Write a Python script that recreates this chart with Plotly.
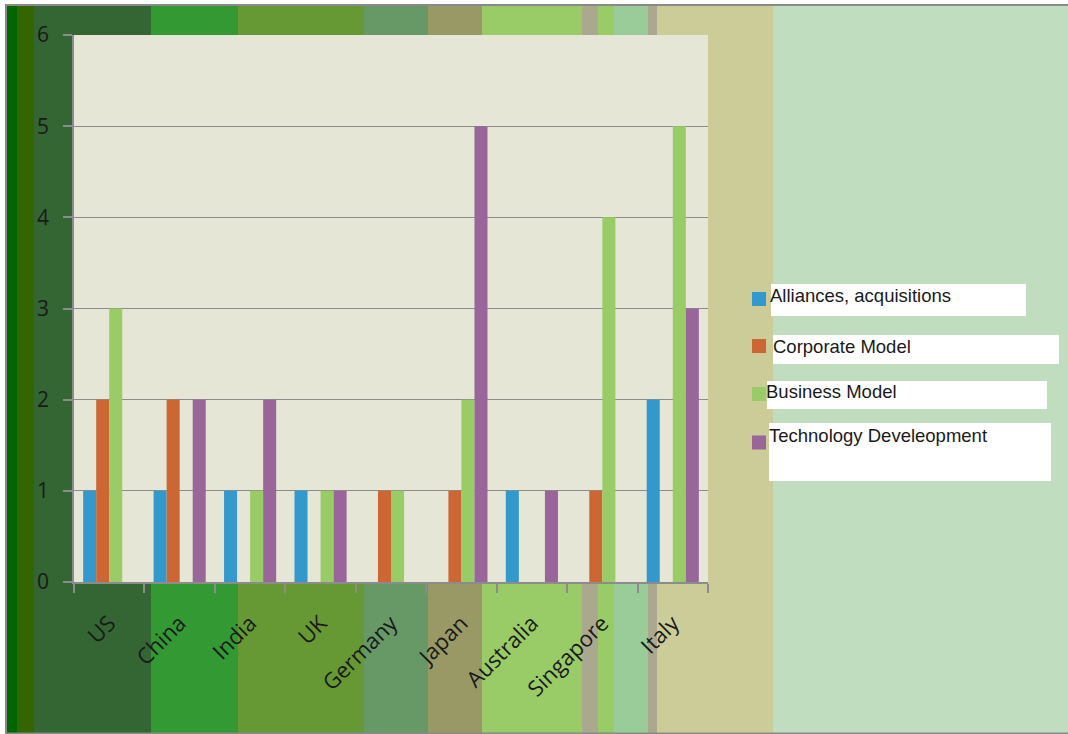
import plotly.graph_objects as go

# ---- data ----
countries = ["US", "China", "India", "UK", "Germany", "Japan", "Australia", "Singapore", "Italy"]
alliances = [1, 1, 1, 1, 0, 0, 1, 0, 2]
corporate = [2, 2, 0, 0, 1, 1, 0, 1, 0]
business = [3, 0, 1, 1, 1, 2, 0, 4, 5]
technology = [0, 2, 2, 1, 0, 5, 1, 0, 3]
series_names = ["Alliances, acquisitions", "Corporate Model", "Business Model", "Technology Develeopment"]
series_values = [alliances, corporate, business, technology]
series_colors = ["#3399CC", "#CC6633", "#99CC66", "#996699"]

# ---- layout geometry (screen pixels) ----
W, H = 1068, 734
PL, PR, PT, PB = 74, 708, 35, 582


def px(x):
    return (x - PL) / (PR - PL)


def py(y):
    return (PB - y) / (PB - PT)


fig = go.Figure()
for name, vals, col in zip(series_names, series_values, series_colors):
    fig.add_trace(go.Bar(x=countries, y=vals, name=name, marker_color=col,
                         marker_line_width=0, showlegend=False))

# background stripes
stripes = [
    (7, 17, "#006600"), (17, 34, "#336600"), (34, 151, "#336633"),
    (151, 238, "#339933"), (238, 364, "#669933"), (364, 428, "#669966"),
    (428, 482, "#999966"), (482, 582, "#99CC66"), (582, 598, "#AAA88F"),
    (598, 614, "#99CC66"), (614, 648, "#99CC99"), (648, 657, "#AAA88F"),
    (657, 773, "#CCCC99"), (773, 1080, "#C0DDC0"),
]
shapes = []
for x0, x1, c in stripes:
    shapes.append(dict(type="rect", xref="paper", yref="paper", layer="below",
                       x0=px(x0), x1=px(x1), y0=py(6), y1=py(745),
                       fillcolor=c, line_width=0))
# plot area background
shapes.append(dict(type="rect", xref="paper", yref="paper", layer="below",
                   x0=0, x1=1, y0=0, y1=1, fillcolor="#E6E6D6", line_width=0))
# outer border
shapes.append(dict(type="rect", xref="paper", yref="paper", layer="below",
                   x0=px(6), x1=px(1085), y0=py(5), y1=py(733.5),
                   fillcolor="rgba(0,0,0,0)", line=dict(color="#8a8a8a", width=2)))

# custom legend: white boxes, colour squares, labels
legend_boxes = [(771, 1026, 284, 316), (773, 1059, 335, 364), (767, 1047, 381, 409), (769, 1051, 423, 481)]
legend_sq_y = [299, 346, 394, 442.5]
legend_txt = [(768, 295), (771, 346), (764, 392), (767, 435)]
annotations = []
for i, (name, col) in enumerate(zip(series_names, series_colors)):
    bx0, bx1, by0, by1 = legend_boxes[i]
    shapes.append(dict(type="rect", xref="paper", yref="paper", layer="above",
                       x0=px(bx0), x1=px(bx1), y0=py(by0), y1=py(by1),
                       fillcolor="white", line_width=0))
    sy = legend_sq_y[i]
    shapes.append(dict(type="rect", xref="paper", yref="paper", layer="above",
                       x0=px(752), x1=px(766), y0=py(sy - 7), y1=py(sy + 7),
                       fillcolor=col, line_width=0))
    tx, ty = legend_txt[i]
    annotations.append(dict(xref="paper", yref="paper", x=px(tx), y=py(ty),
                            xanchor="left", yanchor="middle", showarrow=False,
                            text=name, font=dict(family="Liberation Sans", size=18.5, color="#1a1a1a")))

fig.update_layout(
    width=W, height=H, autosize=False,
    margin=dict(l=PL, r=W - PR, t=PT, b=H - PB, pad=0),
    paper_bgcolor="white", plot_bgcolor="#E6E6D6",
    barmode="group", bargap=0.26, bargroupgap=0,
    shapes=shapes, annotations=annotations,
    font=dict(family="Open Sans", size=21, color="#1a1a1a"),
)
fig.update_xaxes(type="category", range=[-0.5, 8.5], tickson="boundaries",
                 ticks="outside", ticklen=9, tickcolor="#8c8c8c", tickwidth=1.5,
                 showline=True, linecolor="#8c8c8c", linewidth=1.5,
                 showgrid=False, tickangle=-45, ticklabelstandoff=18,
                 tickfont=dict(family="Open Sans", size=22, color="#1a1a1a"))
fig.update_yaxes(range=[0, 6], dtick=1, ticks="outside", ticklen=9,
                 tickcolor="#8c8c8c", tickwidth=1.5,
                 showline=True, linecolor="#8c8c8c", linewidth=1.5,
                 showgrid=True, gridcolor="#8c8c8c", gridwidth=1.2,
                 zeroline=False, ticklabelstandoff=10,
                 tickfont=dict(family="Open Sans", size=21, color="#1a1a1a"))

fig.write_html("out.html", config={"displayModeBar": False},
               post_script="document.body.style.margin='0';document.body.style.overflow='hidden';")
